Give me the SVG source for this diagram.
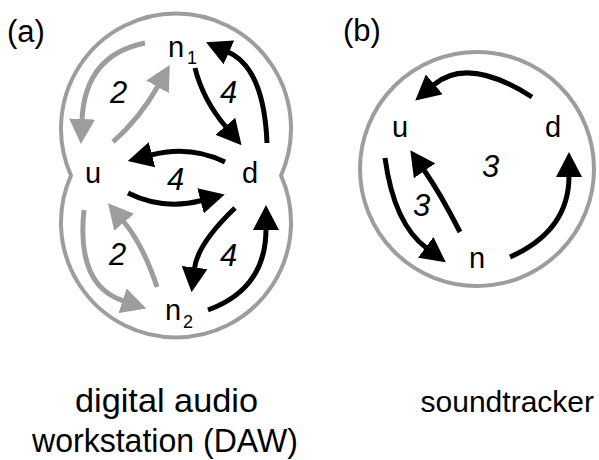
<svg xmlns="http://www.w3.org/2000/svg" width="599" height="460" viewBox="0 0 599 460">
<style>
.frame{fill:none;stroke:#9d9d9d;stroke-width:4}
.lbl{font-family:"Liberation Sans",Arial,sans-serif;font-size:29px;fill:#000}
.sub{font-family:"Liberation Sans",Arial,sans-serif;font-size:18px;fill:#000}
.num{font-family:"Liberation Sans",Arial,sans-serif;font-size:31px;font-style:italic;fill:#000}
.cap{font-family:"Liberation Sans",Arial,sans-serif;font-size:33px;fill:#000}
.pan{font-family:"Liberation Sans",Arial,sans-serif;font-size:31px;fill:#000}
.ab{fill:none;stroke:#000;stroke-width:5;marker-end:url(#hb)}
.ag{fill:none;stroke:#9d9d9d;stroke-width:5;marker-end:url(#hg)}
</style>
<defs>
<marker id="hb" markerUnits="userSpaceOnUse" viewBox="0 0 25 26" refX="1" refY="13" markerWidth="25" markerHeight="26" orient="auto"><path d="M0,0 L25,13 L0,26 Z" fill="#000"/></marker>
<marker id="hg" markerUnits="userSpaceOnUse" viewBox="0 0 25 26" refX="1" refY="13" markerWidth="25" markerHeight="26" orient="auto"><path d="M0,0 L25,13 L0,26 Z" fill="#9d9d9d"/></marker>
</defs>
<rect width="599" height="460" fill="#fff"/>
<g id="panel-a">
<path class="frame" d="M71,175.5 A115,115 0 1 1 281,175.5 A115,115 0 1 1 71,175.5 Z"/>
<text class="pan" x="7" y="42">(a)</text>
</g>
<g id="panel-b">
<circle class="frame" cx="477" cy="169" r="117"/>
<text class="pan" x="343" y="41">(b)</text>
</g>
<g id="connectors">
<path class="ag" d="M145,43 Q85,55 82,120"/>
<path class="ag" d="M113,142 Q140,118 158,86"/>
<path class="ab" d="M195,68 Q203,100 226,127"/>
<path class="ab" d="M267,143 Q264,68 228,52"/>
<path class="ab" d="M225,162 Q190,145 151,155"/>
<path class="ab" d="M128,193 Q163,210.5 201.5,200.5"/>
<path class="ag" d="M84,210 Q76,285.5 123.5,301"/>
<path class="ag" d="M157,287 Q143,244.6 123.5,221.5"/>
<path class="ab" d="M235,208 Q197.5,243.8 194.5,268.5"/>
<path class="ab" d="M208,310 Q266,289 266,229"/>
<path class="ab" d="M532,97 Q467.7,55.75 433.5,85"/>
<path class="ab" d="M385,158 Q394,224 426.5,248"/>
<path class="ab" d="M460,232 Q441,194.6 424,170"/>
<path class="ab" d="M510,257 Q569,231 569,176"/>
</g>
<g id="weights">
<text class="num" x="110" y="103">2</text>
<text class="num" x="220" y="103">4</text>
<text class="num" x="167" y="190">4</text>
<text class="num" x="109" y="265">2</text>
<text class="num" x="220" y="266">4</text>
<text class="num" x="482" y="177">3</text>
<text class="num" x="413" y="216">3</text>
</g>
<g id="node-a-n1"><text class="lbl" x="168" y="57">n</text><text class="sub" x="187" y="64">1</text></g>
<g id="node-a-u"><text class="lbl" x="85" y="183">u</text></g>
<g id="node-a-d"><text class="lbl" x="242" y="183">d</text></g>
<g id="node-a-n2"><text class="lbl" x="165" y="320">n</text><text class="sub" x="183" y="328">2</text></g>
<g id="node-b-u"><text class="lbl" x="392" y="137">u</text></g>
<g id="node-b-d"><text class="lbl" x="545" y="137">d</text></g>
<g id="node-b-n"><text class="lbl" x="469" y="268">n</text></g>
<g id="captions">
<text class="cap" x="75" y="412" textLength="183" lengthAdjust="spacingAndGlyphs">digital audio</text>
<text class="cap" x="32" y="452" textLength="266" lengthAdjust="spacingAndGlyphs">workstation (DAW)</text>
<text class="cap" x="594" y="412" style="font-size:30px;text-anchor:end">soundtracker</text>
</g>
</svg>
